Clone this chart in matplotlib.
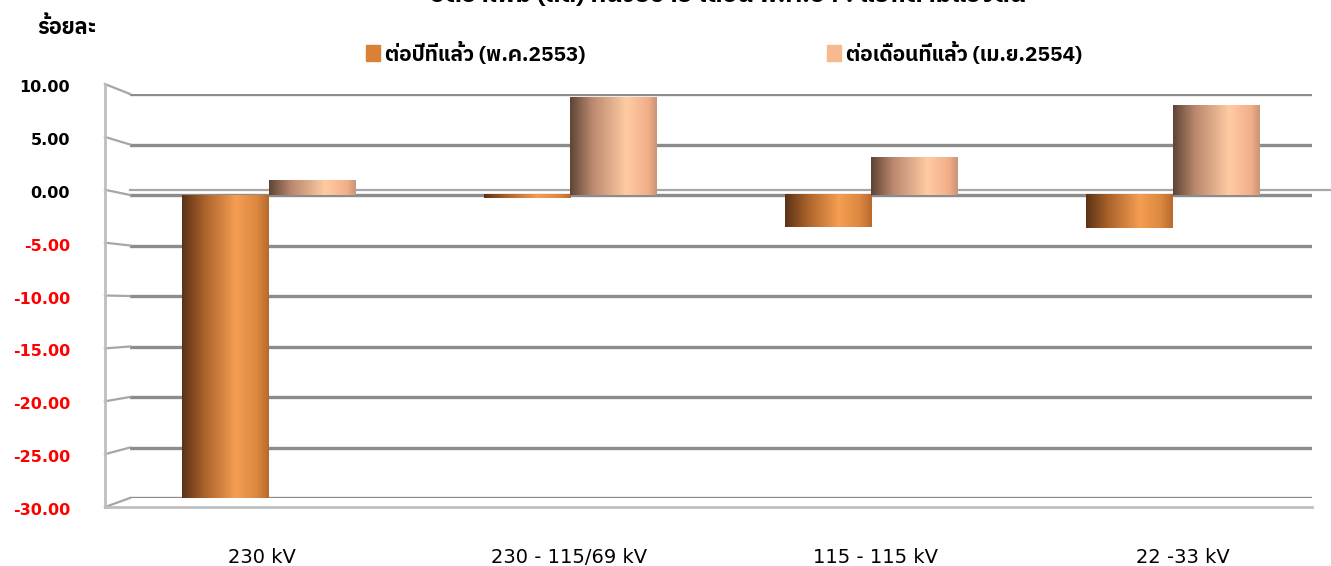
import numpy as np
import matplotlib
matplotlib.use("Agg")
import matplotlib.pyplot as plt
from matplotlib import font_manager
from matplotlib.ft2font import FT2Font
from matplotlib.colors import LinearSegmentedColormap
from matplotlib.patches import Patch

# find a font that has Thai glyphs
thai_font = None
for f in font_manager.fontManager.ttflist:
    try:
        if 0x0E23 in FT2Font(f.fname).get_charmap():
            thai_font = f.name
            if "Thai" in f.name or "Tahoma" in f.name:
                break
    except Exception:
        pass
fams = ([thai_font] if thai_font else []) + ["DejaVu Sans"]
plt.rcParams["font.family"] = fams

categories = ["230 kV", "230 - 115/69 kV", "115 - 115 kV", "22 -33 kV"]
yoy = [-30.0, -0.3, -3.2, -3.3]      # ต่อปีที่แล้ว (พ.ค.2553)
mom = [1.4, 9.7, 3.7, 8.9]           # ต่อเดือนที่แล้ว (เม.ย.2554)
series_names = ["ต่อปีที่แล้ว (พ.ค.2553)", "ต่อเดือนที่แล้ว (เม.ย.2554)"]
yticks = [10, 5, 0, -5, -10, -15, -20, -25, -30]

orange_cmap = LinearSegmentedColormap.from_list(
    "o", [(0, "#5a3216"), (0.25, "#a8612a"), (0.62, "#f59e52"), (0.86, "#dc8840"), (1, "#b8692c")])
peach_cmap = LinearSegmentedColormap.from_list(
    "p", [(0, "#5e4436"), (0.25, "#b9876c"), (0.65, "#ffcba4"), (0.9, "#f2ae88"), (1, "#c99478")])

W, H = 1331, 566
fig = plt.figure(figsize=(W / 100, H / 100), dpi=100)
# axes spans the back wall of the 3d chart
ax = fig.add_axes([130 / W, (H - 498) / H, (1312 - 130) / W, (498 - 94) / H])

# gridlines on the back wall
for v in yticks:
    ax.axhline(v, color="#8c8c8c", lw=2.4, zorder=1)
    off = 0.047 * (v + 11)
    ax.plot([-0.0212, 0], [v + off, v], color="#a6a6a6", lw=1.6,
            transform=ax.get_yaxis_transform(), clip_on=False, zorder=1)
    col = "black" if v >= 0 else "#ff0000"
    ax.text(-0.0508, v + off - 0.35, "%.2f" % v, color=col, fontsize=11.5, fontweight="bold",
            ha="right", va="center", transform=ax.get_yaxis_transform(),
            family="DejaVu Sans")
# left wall and front floor edge
ax.plot([-0.0212, -0.0212], [10 + 0.047 * 21, -30 - 0.047 * 19], color="#bfbfbf", lw=2,
        transform=ax.get_yaxis_transform(), clip_on=False)
ax.plot([-0.0212, 1.0], [-30 - 0.047 * 19] * 2, color="#bfbfbf", lw=2,
        transform=ax.get_yaxis_transform(), clip_on=False)
ax.plot([0, 1.016], [0.5, 0.5], color="#a6a6a6", lw=1.6,
        transform=ax.get_yaxis_transform(), clip_on=False, zorder=1)

# cylinder-like bars with horizontal gradient
w = 0.287
grad = np.linspace(0, 1, 256).reshape(1, -1)
x = np.arange(len(categories))
for i in range(len(categories)):
    for val, x0, cmap in [(yoy[i], x[i] - w, orange_cmap), (mom[i], x[i], peach_cmap)]:
        lo, hi = min(0, val), max(0, val)
        ax.imshow(grad, cmap=cmap, aspect="auto", extent=[x0, x0 + w, lo, hi],
                  zorder=3, interpolation="bilinear")
ax.set_xlim(-0.461, 3.462)
ax.set_ylim(-30, 10)

ax.set_xticks([])
ax.set_yticks([])
for s in ax.spines.values():
    s.set_visible(False)
# category labels, shifted a little for the perspective
for i, c in enumerate(categories):
    ax.text(x[i] + 0.0188 * (i - 1.235), -35.9, c, ha="center", va="center",
            fontsize=14, family="DejaVu Sans", clip_on=False)

# legend
for k, (name, col, xpos) in enumerate([(series_names[0], "#da8138", 366),
                                        (series_names[1], "#f9b98f", 827)]):
    fig.legend(handles=[Patch(color=col)], labels=[name],
               loc="center left", bbox_to_anchor=(xpos / W, 1 - 53 / H), frameon=False,
               handlelength=0.65, handleheight=0.8, handletextpad=0.25,
               borderpad=0, borderaxespad=0,
               prop={"weight": "bold", "size": 15})

fig.text(37 / W, 1 - 27 / H, "ร้อยละ", fontsize=15.5, fontweight="bold", va="center")
# title is clipped at the top edge of the image
fig.text(728 / W, 1 - 2 / H, "อัตราเพิ่ม (ลด) หน่วยขาย เดือน พ.ค.54 : แยกตามแรงดัน",
         fontsize=18, fontweight="bold", ha="center", va="baseline")

fig.savefig("out.png", dpi=100)
